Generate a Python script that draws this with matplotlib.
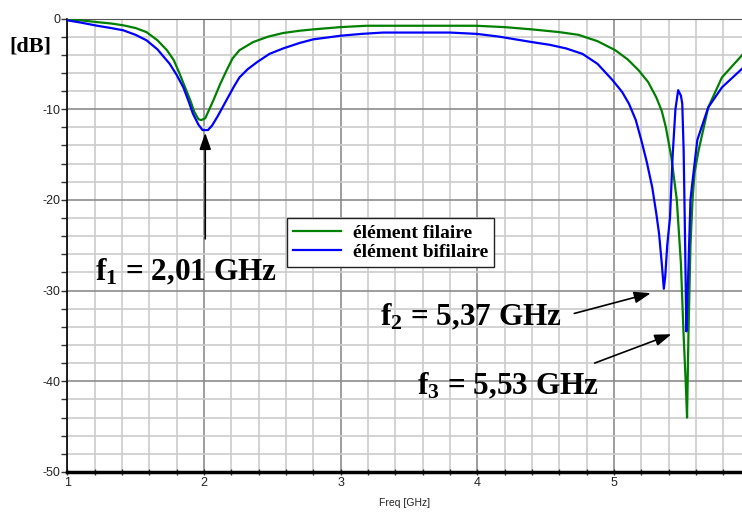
import matplotlib
matplotlib.use("Agg")
import matplotlib.pyplot as plt

plt.rcParams['axes.unicode_minus'] = False
plt.rcParams['mathtext.fontset'] = 'custom'
plt.rcParams['mathtext.rm'] = 'Liberation Serif:bold'
plt.rcParams['mathtext.it'] = 'Liberation Serif:bold'
plt.rcParams['mathtext.bf'] = 'Liberation Serif:bold'

# élément filaire (green)
freq_fil = [1.00, 1.10, 1.22, 1.32, 1.41, 1.50, 1.58, 1.66, 1.73, 1.78, 1.82, 1.86,
            1.90, 1.93, 1.96, 1.98, 2.01, 2.04, 2.07, 2.12, 2.17, 2.21, 2.26, 2.36,
            2.47, 2.58, 2.70, 2.80, 3.00, 3.19, 3.60, 3.99, 4.20, 4.40, 4.60, 4.74,
            4.88, 5.01, 5.10, 5.18, 5.25, 5.31, 5.35, 5.38, 5.42, 5.46, 5.49, 5.51,
            5.525, 5.535, 5.545, 5.56, 5.575, 5.59, 5.62, 5.69, 5.79, 5.94]
db_fil = [-0.1, -0.2, -0.4, -0.55, -0.75, -1.05, -1.5, -2.4, -3.5, -4.6, -6.0, -7.5,
          -9.0, -10.3, -11.1, -11.2, -11.0, -10.0, -9.0, -7.2, -5.6, -4.4, -3.5, -2.6,
          -2.0, -1.6, -1.35, -1.2, -0.95, -0.8, -0.8, -0.8, -0.95, -1.2, -1.5, -1.8,
          -2.5, -3.5, -4.5, -5.7, -7.0, -8.7, -10.2, -12.0, -15.3, -20.0, -27.0, -35.0,
          -40.0, -44.0, -35.0, -25.0, -20.0, -17.0, -14.5, -9.8, -6.5, -4.0]

# élément bifilaire (blue)
freq_bif = [1.00, 1.10, 1.22, 1.32, 1.41, 1.50, 1.58, 1.66, 1.75, 1.80, 1.85, 1.89,
            1.92, 1.96, 1.99, 2.03, 2.06, 2.10, 2.14, 2.18, 2.22, 2.26, 2.32, 2.39, 2.48,
            2.58, 2.70, 2.80, 3.00, 3.15, 3.31, 3.80, 4.00, 4.16, 4.40, 4.53, 4.65,
            4.77, 4.88, 4.99, 5.06, 5.11, 5.16, 5.20, 5.24, 5.28, 5.31, 5.33, 5.35,
            5.365, 5.375, 5.39, 5.41, 5.43, 5.45, 5.47, 5.49, 5.50, 5.51, 5.52, 5.53,
            5.54, 5.55, 5.56, 5.57, 5.61, 5.69, 5.79, 5.94]
db_bif = [-0.2, -0.45, -0.8, -1.05, -1.3, -1.8, -2.4, -3.4, -5.0, -6.2, -7.6, -9.2,
          -10.5, -11.7, -12.3, -12.3, -11.8, -10.8, -9.7, -8.6, -7.5, -6.5, -5.6, -4.8, -3.9,
          -3.3, -2.7, -2.3, -1.9, -1.7, -1.55, -1.55, -1.7, -2.0, -2.6, -2.9, -3.3,
          -3.9, -5.0, -6.8, -8.1, -9.4, -11.2, -13.4, -15.8, -18.6, -21.5, -23.7, -27.0,
          -29.8, -28.5, -25.0, -22.0, -15.0, -10.0, -7.9, -8.5, -9.4, -14.5, -24.0, -34.5,
          -30.0, -25.0, -20.0, -18.6, -13.4, -9.8, -7.6, -5.5]

x_ticks = [1, 2, 3, 4, 5]
y_ticks = [0, -10, -20, -30, -40, -50]

fig = plt.figure(figsize=(7.42, 5.15), dpi=100)
ax = fig.add_axes([67.2 / 742, 1 - 472 / 515, (742 - 67.2) / 742, (472 - 18.5) / 515])

ax.plot(freq_fil, db_fil, color='#008000', lw=1.6, label='élément filaire', zorder=3)
ax.plot(freq_bif, db_bif, color='#0000ff', lw=1.6, label='élément bifilaire', zorder=3)

ax.set_xlim(1, 5.937)
ax.set_ylim(-50, 0)
ax.set_xticks(x_ticks)
ax.set_yticks(y_ticks)
ax.set_xticks([1 + 0.2 * i for i in range(25)], minor=True)
ax.set_yticks([-2 * i for i in range(26)], minor=True)
ax.grid(which='minor', color='#cccccc', lw=1.2, zorder=0)
ax.grid(which='major', color='#8c8c8c', lw=1.2, zorder=1)
ax.set_axisbelow(True)

for lbl in ax.get_xticklabels() + ax.get_yticklabels():
    lbl.set_family('Liberation Sans')
    lbl.set_fontsize(9)
    lbl.set_color('#222222')
ax.tick_params(which='both', direction='out', length=4, width=1, color='#333333', pad=1)
ax.tick_params(axis='x', which='both', direction='inout', length=5)
ax.spines['right'].set_visible(False)
ax.spines['top'].set_color('#555555')
ax.spines['left'].set_linewidth(1.2)
ax.spines['bottom'].set_linewidth(2.5)

fig.text(405 / 742, 1 - 503 / 515, 'Freq [GHz]', family='Liberation Sans', fontsize=7.5,
         ha='center', va='center', color='#222222')
fig.text(9 / 742, 1 - 46 / 515, '[dB]', family='Liberation Serif', fontweight='bold',
         fontsize=16, ha='left', va='center')

leg = ax.legend(loc='upper left', bbox_to_anchor=(0.3257, 0.5595), borderaxespad=0,
                prop={'family': 'Liberation Serif', 'weight': 'bold', 'size': 14},
                fancybox=False, framealpha=1, edgecolor='#222222', handlelength=2.5,
                borderpad=0.3, labelspacing=0.1, handletextpad=0.6)
leg.get_frame().set_linewidth(1.0)

txt = dict(family='Liberation Serif', fontweight='bold', fontsize=22.5, va='center')
arr = dict(arrowstyle='-|>,head_length=1.0,head_width=0.35', color='black', lw=1.2)
ax.annotate('', xy=(2.01, -12.3), xytext=(2.01, -24.6), arrowprops=arr)
ax.text(1.20, -28.0, 'f$_1$ = 2,01 GHz', **txt)
ax.annotate('', xy=(5.29, -30.2), xytext=(4.69, -32.6), arrowprops=arr)
ax.text(3.29, -33.0, 'f$_2$ = 5,37 GHz', **txt)
ax.annotate('', xy=(5.44, -34.7), xytext=(4.84, -38.1), arrowprops=arr)
ax.text(3.56, -40.6, 'f$_3$ = 5,53 GHz', **txt)

fig.savefig('out.png', dpi=100)
